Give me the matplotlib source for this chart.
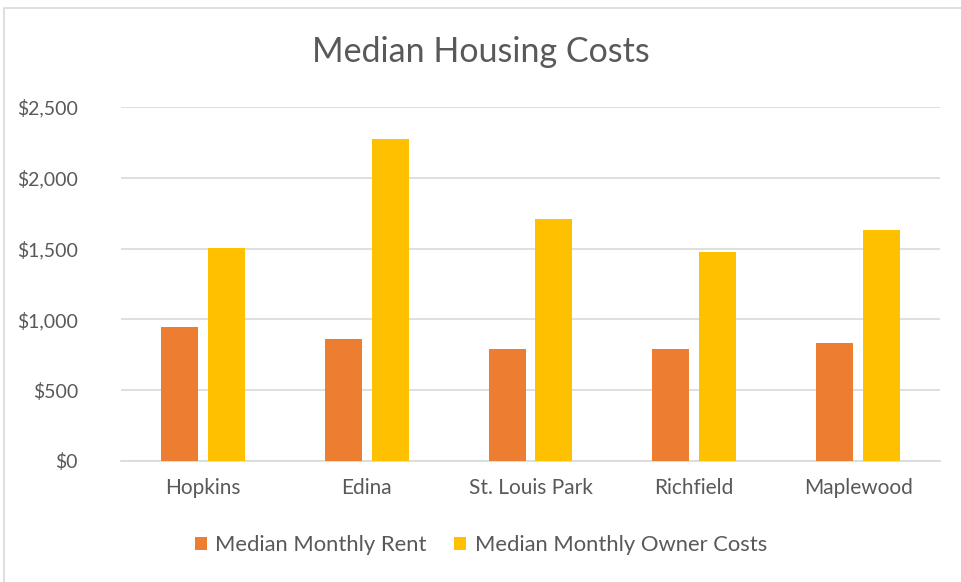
import matplotlib
matplotlib.use("Agg")
import matplotlib.pyplot as plt
from matplotlib.patches import Rectangle
from matplotlib.ticker import FuncFormatter
import numpy as np

plt.rcParams['font.family'] = ['Lato', 'DejaVu Sans']

cities = ["Hopkins", "Edina", "St. Louis Park", "Richfield", "Maplewood"]
rent = [943, 861, 793, 790, 831]
owner = [1506, 2273, 1709, 1474, 1631]
series_names = ["Median Monthly Rent", "Median Monthly Owner Costs"]
yticks = [0, 500, 1000, 1500, 2000, 2500]

c_rent = "#ED7D31"
c_owner = "#FFC000"
txt = "#595959"
grid = "#D9D9D9"

fig = plt.figure(figsize=(9.62, 5.82), dpi=100)
ax = fig.add_axes([121/962, 1-461/582, (940-121)/962, (461-107)/582])

x = np.arange(len(cities))
w = 0.226
off = 0.143
ax.bar(x - off, rent, w, color=c_rent, label=series_names[0], zorder=3)
ax.bar(x + off, owner, w, color=c_owner, label=series_names[1], zorder=3)

ax.set_xlim(-0.5, len(cities) - 0.5)
ax.set_ylim(0, 2500)
ax.set_yticks(yticks)
ax.yaxis.set_major_formatter(FuncFormatter(lambda v, p: f"${v:,.0f}"))
ax.set_xticks(x)
ax.set_xticklabels(cities)
ax.tick_params(axis='both', length=0, colors=txt)
ax.tick_params(axis='x', pad=12, labelsize=15)
ax.tick_params(axis='y', pad=31, labelsize=14)
for lab in ax.get_yticklabels():
    lab.set_horizontalalignment('right')
ax.yaxis.grid(True, color=grid, linewidth=1.2, zorder=0)
for s in ["top", "right", "left"]:
    ax.spines[s].set_visible(False)
ax.spines["bottom"].set_color(grid)
ax.spines["bottom"].set_linewidth(1.2)

fig.text(0.5, 1 - 52/582, "Median Housing Costs", ha="center", va="center",
         fontsize=24.5, color=txt)

leg = fig.legend(loc="center", bbox_to_anchor=(0.5, 1 - 545/582), ncol=2,
                 frameon=False, fontsize=15.8, handlelength=0.55, handleheight=0.55,
                 handletextpad=0.37, columnspacing=1.25)
for t in leg.get_texts():
    t.set_color(txt)

fig.patches.append(Rectangle((4/962, -0.02), 1.0, 1 - 7.5/582 + 0.02,
                             transform=fig.transFigure, fill=False,
                             edgecolor="#D9D9D9", linewidth=1.2))

fig.savefig("out.png", dpi=100)
